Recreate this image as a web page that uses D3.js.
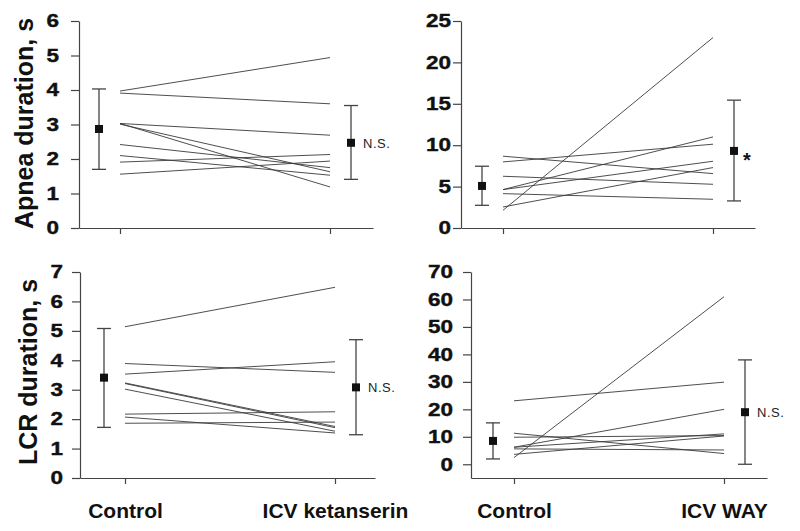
<!DOCTYPE html>
<html>
<head>
<meta charset="utf-8">
<script src="https://cdn.jsdelivr.net/npm/d3@7/dist/d3.min.js"></script>
<style>
  html, body { margin: 0; padding: 0; background: #fff; }
  svg { display: block; }
</style>
</head>
<body>
<svg id="chart" width="800" height="531"></svg>
<script>
// ---------------- DATA ----------------
const xLabelsKetanserin = ["Control", "ICV ketanserin"];
const xLabelsWay = ["Control", "ICV WAY"];
const yTitles = ["Apnea duration, s", "LCR duration, s"];

const apneaKetControl = [3.97, 3.91, 3.03, 3.03, 3.01, 2.42, 2.10, 1.91, 1.56];
const apneaKetDrug    = [4.94, 3.60, 2.69, 1.19, 1.63, 1.75, 1.53, 2.13, 1.94];

const apneaWayControl = [2.14, 8.67, 7.98, 6.25, 4.64, 4.64, 4.15, 2.54];
const apneaWayDrug    = [23.0, 6.57, 10.12, 5.28, 11.0, 8.06, 3.47, 7.3];

const lcrKetControl = [5.14, 3.89, 3.53, 3.23, 3.21, 3.02, 2.17, 2.07, 1.86];
const lcrKetDrug    = [6.48, 3.59, 3.95, 1.75, 1.71, 1.59, 2.25, 1.53, 1.90];

const lcrWayControl = [2.43, 23.1, 11.3, 9.84, 6.2, 6.2, 5.6, 3.6];
const lcrWayDrug    = [61.0, 29.9, 3.9, 10.45, 20.0, 11.06, 5.2, 10.3];

// group summary: mean with lower / upper error limits  [control, drug]
const apneaKetMean = [2.87, 2.47], apneaKetLo = [1.70, 1.41], apneaKetHi = [4.03, 3.55];
const apneaWayMean = [5.08, 9.31], apneaWayLo = [2.74, 3.27], apneaWayHi = [7.46, 15.44];
const lcrKetMean   = [3.41, 3.08], lcrKetLo   = [1.72, 1.47], lcrKetHi   = [5.08, 4.70];
const lcrWayMean   = [8.5, 18.96], lcrWayLo   = [1.94, 0.0],  lcrWayHi   = [15.07, 38.0];

const significance = ["N.S.", "*", "N.S.", "N.S."];

const yTicksApneaKet = [0, 1, 2, 3, 4, 5, 6];
const yTicksApneaWay = [0, 5, 10, 15, 20, 25];
const yTicksLcrKet   = [0, 1, 2, 3, 4, 5, 6, 7];
const yTicksLcrWay   = [0, 10, 20, 30, 40, 50, 60, 70];

// ---------------- LAYOUT ----------------
const panels = [
  { ctrl: apneaKetControl, drug: apneaKetDrug, mean: apneaKetMean, lo: apneaKetLo, hi: apneaKetHi,
    ticks: yTicksApneaKet, ydom: [0, 6], yr: [228, 21], axisX: 79, xC: 120, xI: 330, xEnd: 373,
    labOff: 20, sig: significance[0], labels: null, title: yTitles[0] },
  { ctrl: apneaWayControl, drug: apneaWayDrug, mean: apneaWayMean, lo: apneaWayLo, hi: apneaWayHi,
    ticks: yTicksApneaWay, ydom: [0, 25], yr: [228, 21], axisX: 461, xC: 503, xI: 713, xEnd: 755,
    labOff: 10, sig: significance[1], labels: null, title: null },
  { ctrl: lcrKetControl, drug: lcrKetDrug, mean: lcrKetMean, lo: lcrKetLo, hi: lcrKetHi,
    ticks: yTicksLcrKet, ydom: [0, 7], yr: [478, 272], axisX: 80, xC: 125, xI: 335, xEnd: 375,
    labOff: 17, sig: significance[2], labels: xLabelsKetanserin, title: yTitles[1] },
  { ctrl: lcrWayControl, drug: lcrWayDrug, mean: lcrWayMean, lo: lcrWayLo, hi: lcrWayHi,
    ticks: yTicksLcrWay, ydom: [-5, 70], yr: [478, 272], axisX: 471, xC: 514, xI: 724, xEnd: 767,
    labOff: 18, sig: significance[3], labels: xLabelsWay, title: null }
];

const svg = d3.select("#chart");
const axisColor = "#444";
const FONT = "Arial, 'Liberation Sans', Helvetica, sans-serif";
const digitStretch = 1.25;

panels.forEach((p, pi) => {
  const g = svg.append("g");
  // x: 0 = control, 1 = drug
  const xBase = d3.scaleLinear().domain([0, 1]).range([p.xC, p.xI]);
  const x = d3.scaleLinear().domain([xBase.invert(p.axisX), xBase.invert(p.xEnd)]).range([p.axisX, p.xEnd]);
  const y = d3.scaleLinear().domain(p.ydom).range(p.yr);

  // y axis
  const yAxis = d3.axisLeft(y).tickValues(p.ticks).tickSize(8).tickSizeOuter(0)
    .tickPadding(p.labOff - 8).tickFormat(d3.format("d"));
  const ya = g.append("g").attr("transform", `translate(${p.axisX},0)`).call(yAxis);
  ya.attr("font-family", FONT).attr("font-size", 18).attr("font-weight", "bold");
  ya.select(".domain").attr("stroke", axisColor).attr("stroke-width", 1.2);
  ya.selectAll(".tick line").attr("stroke", axisColor).attr("stroke-width", 1.2);
  ya.selectAll(".tick text")
    .attr("fill", "#111").attr("stroke", "#111").attr("stroke-width", 0.4)
    .attr("x", -p.labOff / digitStretch)
    .attr("transform", `scale(${digitStretch},1)`);

  // x axis
  const xAxis = d3.axisBottom(x).tickValues([0, 1]).tickSize(6).tickSizeOuter(0)
    .tickFormat((d, i) => p.labels ? p.labels[i] : "").tickPadding(19);
  const xa = g.append("g").attr("transform", `translate(0,${p.yr[0]})`).call(xAxis);
  xa.attr("font-family", FONT).attr("font-size", 21).attr("font-weight", "bold");
  xa.select(".domain").attr("stroke", axisColor).attr("stroke-width", 1.2);
  xa.selectAll(".tick line").attr("stroke", axisColor).attr("stroke-width", 1.2);
  xa.selectAll(".tick text").attr("fill", "#111");

  // individual lines
  const pairs = p.ctrl.map((c, i) => [[0, c], [1, p.drug[i]]]);
  const line = d3.line().x(d => x(d[0])).y(d => y(d[1]));
  g.selectAll("path.subj").data(pairs).enter().append("path")
    .attr("class", "subj").attr("d", line)
    .attr("fill", "none").attr("stroke", "#3a3a3a").attr("stroke-width", 0.9);

  // error bars
  const ex = [-0.1, 1.1];
  const capW = 7;
  [0, 1].forEach(k => {
    const cx = x(ex[k]);
    g.append("line").attr("x1", cx).attr("x2", cx).attr("y1", y(p.lo[k])).attr("y2", y(p.hi[k]))
      .attr("stroke", "#444").attr("stroke-width", 1.3);
    [p.lo[k], p.hi[k]].forEach(v => {
      g.append("line").attr("x1", cx - capW).attr("x2", cx + capW).attr("y1", y(v)).attr("y2", y(v))
        .attr("stroke", "#444").attr("stroke-width", 1.3);
    });
    g.append("rect").attr("x", cx - 4).attr("y", y(p.mean[k]) - 4).attr("width", 8).attr("height", 8)
      .attr("fill", "#111");
  });

  // significance label
  const sx = x(1.1) + 12;
  const sy = y(p.mean[1]);
  if (p.sig === "*") {
    g.append("text").attr("x", sx - 3).attr("y", sy + 16)
      .attr("font-size", 20).attr("font-weight", "bold").attr("font-family", FONT)
      .attr("fill", "#111").text(p.sig);
  } else {
    g.append("text").attr("x", sx).attr("y", sy + 5)
      .attr("font-size", 13).attr("letter-spacing", 0.5).attr("font-family", FONT)
      .attr("fill", "#222").text(p.sig);
  }

  // y title
  if (p.title) {
    const cy = (p.yr[0] + p.yr[1]) / 2 + (pi === 0 ? -1 : -3);
    const bx = pi === 0 ? 33 : 37;
    g.append("text").attr("transform", `translate(${bx},${cy}) rotate(-90)`)
      .attr("text-anchor", "middle")
      .attr("font-size", 25).attr("font-weight", "bold").attr("font-family", FONT)
      .attr("fill", "#111").text(p.title);
  }
});
</script>
</body>
</html>
